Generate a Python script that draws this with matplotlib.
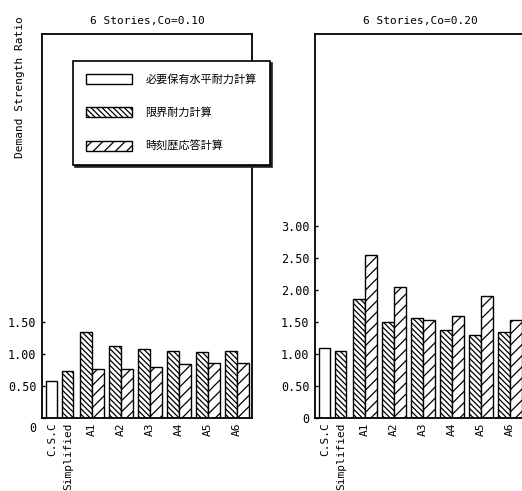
import matplotlib
matplotlib.use("Agg")
import matplotlib.pyplot as plt
from matplotlib.patches import Patch
from matplotlib.transforms import ScaledTranslation

plt.rcParams['font.family'] = ['DejaVu Sans Mono', 'Noto Sans CJK JP']
plt.rcParams['hatch.linewidth'] = 0.9

categories = ['C.S.C', 'Simplified', 'A1', 'A2', 'A3', 'A4', 'A5', 'A6']
titles = ['6 Stories,Co=0.10', '6 Stories,Co=0.20']
legend_labels = ['必要保有水平耐力計算', '限界耐力計算', '時刻歴応答計算']

# C.S.C (required horizontal strength), Simplified (limit strength)
csc = [0.58, 1.10]
simplified = [0.73, 1.05]
# A1..A6 : limit strength calc / time history response calc
limit_calc = [[1.34, 1.12, 1.08, 1.05, 1.03, 1.05],
              [1.86, 1.50, 1.57, 1.375, 1.30, 1.35]]
time_hist = [[0.77, 0.77, 0.80, 0.84, 0.86, 0.86],
             [2.54, 2.04, 1.53, 1.60, 1.91, 1.53]]
yticks = [[0, 0.5, 1.0, 1.5], [0, 0.5, 1.0, 1.5, 2.0, 2.5, 3.0]]

HATCH_DARK = '\\\\\\\\\\\\'
HATCH_LIGHT = '///'

fig = plt.figure(figsize=(5.22, 4.91), dpi=100)
ax_w = 210 / 522
ax_h = 384 / 491
ax_b = 73 / 491
axes = [fig.add_axes([42 / 522, ax_b, ax_w, ax_h]),
        fig.add_axes([315 / 522, ax_b, ax_w, ax_h])]

x_single = [0.62, 1.17]
x_groups = [2, 3, 4, 5, 6, 7]
w = 0.41

for i, ax in enumerate(axes):
    ax.bar(x_single[0], csc[i], 0.38, color='white', edgecolor='black', lw=1.0)
    ax.bar(x_single[1], simplified[i], 0.38, color='white', edgecolor='black',
           lw=1.0, hatch=HATCH_DARK)
    ax.bar([x - w / 2 for x in x_groups], limit_calc[i], w, color='white',
           edgecolor='black', lw=1.0, hatch=HATCH_DARK)
    ax.bar([x + w / 2 for x in x_groups], time_hist[i], w, color='white',
           edgecolor='black', lw=1.0, hatch=HATCH_LIGHT)
    ax.set_xlim(0.276, 7.52)
    ax.set_ylim(0, 6.0)
    ax.set_xticks(x_single + x_groups)
    ax.set_xticklabels(categories, rotation=90, fontsize=8)
    ax.tick_params(axis='x', length=0, pad=3)
    ax.set_yticks(yticks[i])
    ax.set_yticklabels(['0'] + ['%.2f' % v for v in yticks[i][1:]], fontsize=8.5)
    ax.tick_params(axis='y', length=2, width=1.0, pad=4, direction='in')
    for s in ax.spines.values():
        s.set_linewidth(1.3)
    ax.set_title(titles[i], fontsize=8, pad=7)

# the zero label of the left panel sits a little lower
zl = axes[0].get_yticklabels()[0]
zl.set_transform(zl.get_transform() + ScaledTranslation(0, -0.09, fig.dpi_scale_trans))

fig.text(20 / 522, 1 - 87 / 491, 'Demand Strength Ratio', rotation=90,
         ha='center', va='center', fontsize=8)

handles = [Patch(facecolor='white', edgecolor='black', lw=1.0),
           Patch(facecolor='white', edgecolor='black', lw=1.0, hatch=HATCH_DARK),
           Patch(facecolor='white', edgecolor='black', lw=1.0, hatch=HATCH_LIGHT)]
leg = fig.legend(handles, legend_labels, loc='upper left',
                 bbox_to_anchor=(73 / 522, 1 - 61 / 491), borderaxespad=0,
                 fontsize=8, handlelength=4.1, handleheight=1.0,
                 labelspacing=2.0, handletextpad=1.2, borderpad=1.2,
                 fancybox=False, edgecolor='black', framealpha=1,
                 shadow={'color': '#222222', 'ox': 1.5, 'oy': -1.5, 'alpha': 1})
leg.get_frame().set_linewidth(1.2)

fig.savefig('out.png', dpi=100)
